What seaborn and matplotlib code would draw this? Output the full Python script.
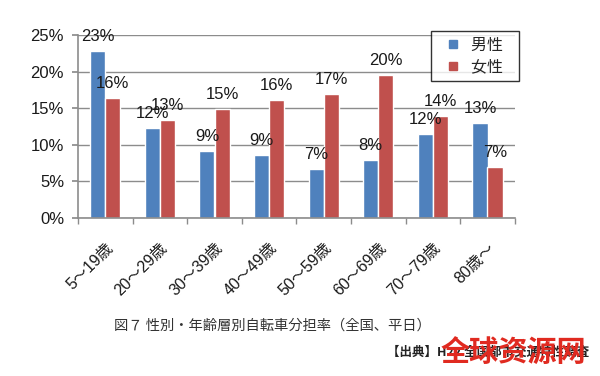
import pandas as pd
import seaborn as sns
import matplotlib.pyplot as plt
from matplotlib.lines import Line2D
from matplotlib.ticker import PercentFormatter

# chart values
age_groups = ["5～19歳", "20～29歳", "30～39歳", "40～49歳",
              "50～59歳", "60～69歳", "70～79歳", "80歳～"]
male = [22.8, 12.3, 9.1, 8.6, 6.7, 7.9, 11.5, 13.0]
female = [16.4, 13.4, 14.9, 16.1, 16.9, 19.5, 14.0, 7.0]
male_labels = ["23%", "12%", "9%", "9%", "7%", "8%", "12%", "13%"]
female_labels = ["16%", "13%", "15%", "16%", "17%", "20%", "14%", "7%"]
series = ["男性", "女性"]
colors = ["#4F81BD", "#C0504D"]

caption = "図７ 性別・年齢層別自転車分担率（全国、平日）"
source = "【出典】H22 全国都市交通特性調査"
watermark = "全球资源网"

df = pd.DataFrame({
    "age": age_groups * 2,
    "share": male + female,
    "sex": [series[0]] * len(male) + [series[1]] * len(female),
})

sns.set_theme(style="white")
plt.rcParams["font.family"] = ["Liberation Sans", "Noto Sans CJK JP", "DejaVu Sans"]

fig = plt.figure(figsize=(6, 3.76), dpi=100)
ax = fig.add_axes([0.13, 0.42, 0.728, 0.487])

sns.barplot(data=df, x="age", y="share", hue="sex", order=age_groups,
            hue_order=series, palette=colors,
            width=0.55, gap=0, saturation=1, ax=ax, legend=False)

for cont, labs in zip(ax.containers, [male_labels, female_labels]):
    ax.bar_label(cont, labels=labs, padding=5, fontsize=12, color="#1a1a1a")

ax.set_ylim(0, 25)
ax.set_xlim(-0.5, len(age_groups) - 0.5)
ax.set_yticks([0, 5, 10, 15, 20, 25])
ax.yaxis.set_major_formatter(PercentFormatter(decimals=0))
ax.set_xlabel("")
ax.set_ylabel("")

gray = "#8c8c8c"
ax.grid(axis="y", color=gray, linewidth=1)
ax.set_axisbelow(True)
for s in ["top", "right"]:
    ax.spines[s].set_visible(False)
for s in ["left", "bottom"]:
    ax.spines[s].set_color(gray)
    ax.spines[s].set_linewidth(1.2)

ax.tick_params(axis="y", labelsize=12, left=True, length=4, color=gray,
               labelcolor="#1a1a1a", pad=6)
# tick marks between categories, labels at centers
ax.set_xticks([i - 0.5 for i in range(len(age_groups) + 1)], minor=True)
ax.tick_params(axis="x", which="minor", bottom=True, length=4, color=gray)
ax.tick_params(axis="x", which="major", bottom=False, labelsize=11.5,
               labelcolor="#1a1a1a", pad=10)
plt.setp(ax.get_xticklabels(), rotation=45, ha="right", rotation_mode="anchor")

# legend with small square swatches
handles = [Line2D([], [], marker="s", linestyle="", markersize=6,
                  markerfacecolor=c, markeredgecolor=c) for c in colors]
leg = ax.legend(handles, [s + "  " for s in series], loc="upper right",
                bbox_to_anchor=(0.865, 0.918), bbox_transform=fig.transFigure,
                fontsize=11.5, frameon=True, fancybox=False, edgecolor="black",
                handlelength=1.9, handletextpad=0.2, borderpad=0.42,
                labelspacing=0.45, borderaxespad=0)
leg.get_frame().set_linewidth(1)

fig.text(0.19, 0.135, caption, fontsize=10.3, color="#333333",
         family=["Noto Sans CJK JP"], va="center")
fig.text(0.645, 0.062, source, fontsize=9, color="#222222", fontweight="bold",
         family=["Noto Sans CJK JP"], va="center")
fig.text(0.735, 0.065, watermark, fontsize=21, color="#E02A20", fontweight="bold",
         family=["Noto Sans CJK SC"], va="center")

fig.savefig("out.png", dpi=100, facecolor="white")
